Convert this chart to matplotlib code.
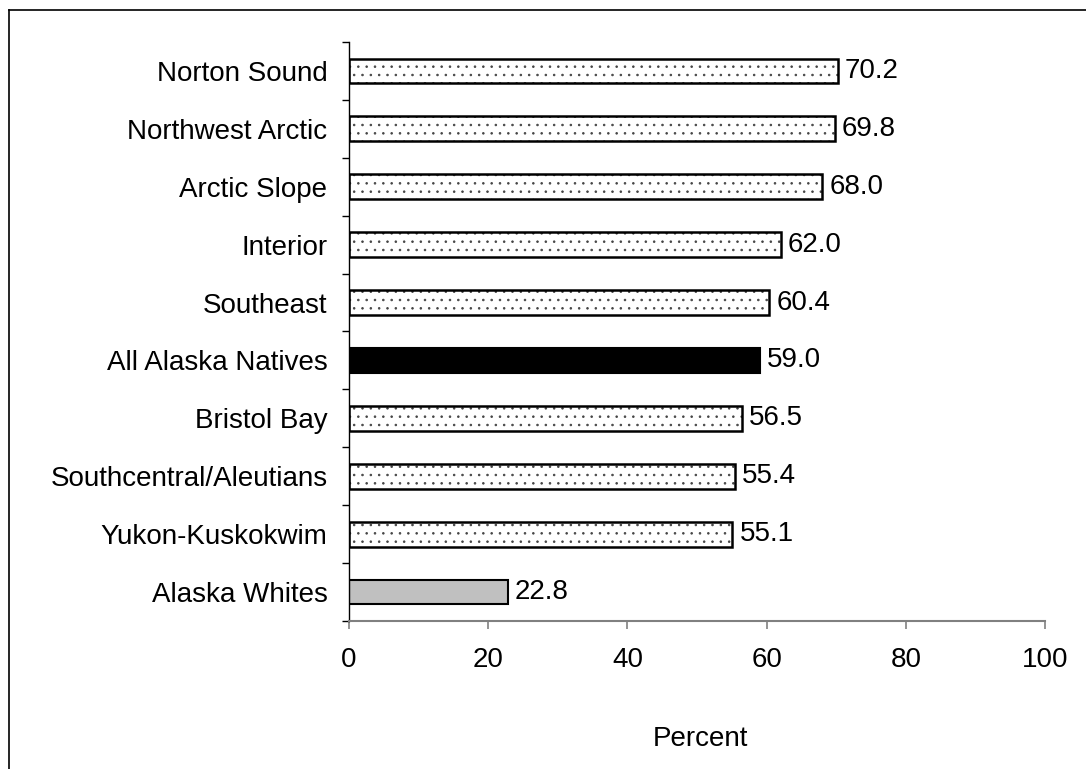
import numpy as np
import matplotlib.pyplot as plt
from matplotlib.lines import Line2D

# données (du haut vers le bas)
regions = [
    "Norton Sound",
    "Northwest Arctic",
    "Arctic Slope",
    "Interior",
    "Southeast",
    "All Alaska Natives",
    "Bristol Bay",
    "Southcentral/Aleutians",
    "Yukon-Kuskokwim",
    "Alaska Whites",
]
percent = [70.2, 69.8, 68.0, 62.0, 60.4, 59.0, 56.5, 55.4, 55.1, 22.8]
x_ticks = [0, 20, 40, 60, 80, 100]

plt.rcParams["font.family"] = ["Liberation Sans", "DejaVu Sans"]
plt.rcParams["hatch.linewidth"] = 0.6
fs = 20

fig = plt.figure(figsize=(10.86, 7.69), dpi=100)
ax = fig.add_axes([349 / 1086, 1 - 621 / 769, 696 / 1086, 579 / 769])

n = len(regions)
y = np.arange(n)[::-1]
h = 0.43

for yi, v, name in zip(y, percent, regions):
    if name == "All Alaska Natives":
        ax.barh(yi, v, height=h, color="black", edgecolor="black", linewidth=1.5)
    elif name == "Alaska Whites":
        ax.barh(yi, v, height=h, color="#c0c0c0", edgecolor="black", linewidth=1.5)
    else:
        # pointillé + contour
        ax.barh(yi, v, height=h, color="white", edgecolor="#444444",
                hatch="..", linewidth=0)
        ax.barh(yi, v, height=h, fill=False, edgecolor="black", linewidth=1.8)
    ax.text(v + 1.0, yi, f"{v:.1f}", va="center", ha="left", fontsize=fs)

ax.set_xlim(0, 100)
ax.set_ylim(-0.5, n - 0.5)

ax.set_xticks(x_ticks)
ax.set_xticklabels([str(t) for t in x_ticks], fontsize=fs)
ax.tick_params(axis="x", direction="out", length=6, width=1.2, color="#808080", pad=13)

ax.set_yticks(np.arange(n + 1) - 0.5)
ax.set_yticklabels([])
ax.set_yticks(y, minor=True)
ax.set_yticklabels(regions, minor=True, fontsize=fs)
ax.tick_params(axis="y", which="major", direction="out", length=5, width=1, color="black")
ax.tick_params(axis="y", which="minor", length=0, pad=15.5)

for side in ["top", "right"]:
    ax.spines[side].set_visible(False)
ax.spines["bottom"].set_color("#808080")
ax.spines["bottom"].set_linewidth(1.5)
ax.spines["left"].set_color("black")
ax.spines["left"].set_linewidth(1)

fig.text(700 / 1086, 1 - 739 / 769, "Percent", ha="center", va="center", fontsize=fs)

# cadre
x0, y0 = 8.5 / 1086, 1 - 9.5 / 769
fig.add_artist(Line2D([x0, 1], [y0, y0], color="black", linewidth=1.2))
fig.add_artist(Line2D([x0, x0], [y0, 0], color="black", linewidth=1.2))

fig.savefig("out.png", dpi=100)
